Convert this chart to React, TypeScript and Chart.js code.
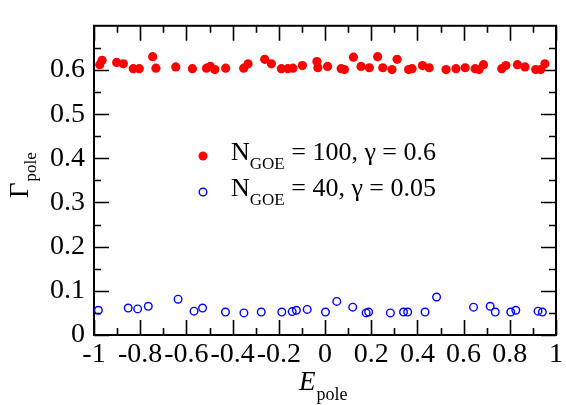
import React, { useEffect, useRef } from "react";
import { Chart, registerables } from "chart.js";

Chart.register(...registerables);

// ---- data ----
const redX = [-0.975, -0.965, -0.902, -0.873, -0.83, -0.804, -0.746, -0.732, -0.646, -0.574, -0.513, -0.496, -0.477, -0.43, -0.352, -0.333, -0.261, -0.232, -0.189, -0.161, -0.139, -0.098, -0.035, -0.031, 0.011, 0.07, 0.084, 0.123, 0.156, 0.192, 0.228, 0.25, 0.29, 0.312, 0.362, 0.377, 0.422, 0.451, 0.524, 0.567, 0.607, 0.65, 0.667, 0.686, 0.765, 0.783, 0.833, 0.866, 0.912, 0.934, 0.952];
const redY = [0.612, 0.622, 0.617, 0.614, 0.603, 0.603, 0.63, 0.604, 0.607, 0.603, 0.604, 0.608, 0.601, 0.604, 0.604, 0.614, 0.624, 0.614, 0.603, 0.603, 0.604, 0.61, 0.619, 0.605, 0.608, 0.603, 0.601, 0.629, 0.608, 0.605, 0.63, 0.605, 0.601, 0.624, 0.601, 0.603, 0.61, 0.605, 0.601, 0.603, 0.605, 0.603, 0.601, 0.612, 0.603, 0.61, 0.612, 0.607, 0.601, 0.601, 0.614];
const blueX = [-0.981, -0.852, -0.811, -0.765, -0.636, -0.567, -0.53, -0.431, -0.351, -0.276, -0.187, -0.142, -0.124, -0.077, 0.002, 0.051, 0.12, 0.178, 0.189, 0.283, 0.34, 0.358, 0.433, 0.483, 0.643, 0.715, 0.737, 0.804, 0.826, 0.922, 0.941];
const blueY = [0.056, 0.061, 0.059, 0.065, 0.081, 0.054, 0.061, 0.052, 0.05, 0.052, 0.052, 0.053, 0.056, 0.058, 0.052, 0.076, 0.063, 0.05, 0.052, 0.05, 0.052, 0.052, 0.052, 0.086, 0.063, 0.065, 0.052, 0.052, 0.056, 0.054, 0.052];

const xTickValues = [-1, -0.8, -0.6, -0.4, -0.2, 0, 0.2, 0.4, 0.6, 0.8, 1];
const xTickLabels = ["-1", "-0.8", "-0.6", "-0.4", "-0.2", "0", "0.2", "0.4", "0.6", "0.8", "1"];
const xMinorTicks = [-0.9, -0.7, -0.5, -0.3, -0.1, 0.1, 0.3, 0.5, 0.7, 0.9];
const yTickValues = [0, 0.1, 0.2, 0.3, 0.4, 0.5, 0.6];
const yTickLabels = ["0", "0.1", "0.2", "0.3", "0.4", "0.5", "0.6"];
const yMinorTicks = [0.05, 0.15, 0.25, 0.35, 0.45, 0.55, 0.65];

const redLabel = ["N", "GOE", " = 100, \u03b3 = 0.6"];
const blueLabel = ["N", "GOE", " = 40, \u03b3 = 0.05"];

const SERIF = "'Liberation Serif', 'Times New Roman', serif";

const decorPlugin = {
  id: "decor",
  beforeDatasetsDraw(chart: any) {
    const { ctx, chartArea: a, scales } = chart;
    const x = scales.x, y = scales.y;
    ctx.save();
    ctx.strokeStyle = "#000";
    ctx.lineWidth = 1.6;
    ctx.beginPath();
    const major = 15, minor = 7;
    for (const v of xTickValues) {
      const p = Math.round(x.getPixelForValue(v)) + 0.5;
      ctx.moveTo(p, a.bottom); ctx.lineTo(p, a.bottom - major);
      ctx.moveTo(p, a.top); ctx.lineTo(p, a.top + major);
    }
    for (const v of xMinorTicks) {
      const p = Math.round(x.getPixelForValue(v)) + 0.5;
      ctx.moveTo(p, a.bottom); ctx.lineTo(p, a.bottom - minor);
      ctx.moveTo(p, a.top); ctx.lineTo(p, a.top + minor);
    }
    for (const v of yTickValues) {
      const p = Math.round(y.getPixelForValue(v)) + 0.5;
      ctx.moveTo(a.left, p); ctx.lineTo(a.left + major, p);
      ctx.moveTo(a.right, p); ctx.lineTo(a.right - major, p);
    }
    for (const v of yMinorTicks) {
      const p = Math.round(y.getPixelForValue(v)) + 0.5;
      ctx.moveTo(a.left, p); ctx.lineTo(a.left + minor, p);
      ctx.moveTo(a.right, p); ctx.lineTo(a.right - minor, p);
    }
    ctx.stroke();
    ctx.lineWidth = 2;
    ctx.strokeRect(a.left, a.top, a.right - a.left, a.bottom - a.top);
    ctx.restore();
  },
  afterDraw(chart: any) {
    const { ctx } = chart;
    ctx.save();
    ctx.fillStyle = "#000";
    ctx.textBaseline = "alphabetic";
    ctx.textAlign = "left";
    // x title
    ctx.font = `italic 27px ${SERIF}`;
    ctx.fillText("E", 299, 390);
    const ew = ctx.measureText("E").width;
    ctx.font = `18px ${SERIF}`;
    ctx.fillText("pole", 299 + ew + 1, 400);
    // y title (rotated)
    ctx.save();
    ctx.translate(28, 198);
    ctx.rotate(-Math.PI / 2);
    ctx.font = `27px ${SERIF}`;
    ctx.fillText("\u0393", 0, 0);
    const gw = ctx.measureText("\u0393").width;
    ctx.font = `17px ${SERIF}`;
    ctx.fillText("pole", gw + 1, 8);
    ctx.restore();
    // legend
    const drawLabel = (parts: string[], x0: number, base: number) => {
      ctx.font = `26px ${SERIF}`;
      ctx.fillText(parts[0], x0, base);
      let xx = x0 + ctx.measureText(parts[0]).width;
      ctx.font = `17px ${SERIF}`;
      ctx.fillText(parts[1], xx, base + 9);
      xx += ctx.measureText(parts[1]).width;
      ctx.font = `26px ${SERIF}`;
      ctx.fillText(parts[2], xx, base);
    };
    ctx.fillStyle = "#ff0000";
    ctx.beginPath();
    ctx.arc(203, 156, 4.5, 0, Math.PI * 2);
    ctx.fill();
    ctx.strokeStyle = "#0000ff";
    ctx.lineWidth = 1.4;
    ctx.beginPath();
    ctx.arc(203, 192, 3.8, 0, Math.PI * 2);
    ctx.stroke();
    ctx.fillStyle = "#000";
    drawLabel(redLabel, 231, 160);
    drawLabel(blueLabel, 231, 196);
    ctx.restore();
  },
};

export default function App() {
  const ref = useRef<HTMLCanvasElement | null>(null);
  useEffect(() => {
    if (!ref.current) return;
    const chart = new Chart(ref.current, {
      type: "scatter",
      data: {
        datasets: [
          {
            label: "red",
            data: redX.map((v, i) => ({ x: v, y: redY[i] })),
            backgroundColor: "#ff0000",
            borderColor: "#ff0000",
            pointRadius: 4.6,
            borderWidth: 0,
            clip: false as any,
          },
          {
            label: "blue",
            data: blueX.map((v, i) => ({ x: v, y: blueY[i] })),
            backgroundColor: "rgba(0,0,0,0)",
            borderColor: "#0000ff",
            pointRadius: 3.8,
            borderWidth: 1.4,
            clip: false as any,
          },
        ],
      },
      options: {
        animation: false,
        responsive: true,
        maintainAspectRatio: false,
        layout: { padding: { top: 10, right: 9, left: 0, bottom: 0 } },
        plugins: { legend: { display: false }, tooltip: { enabled: false } },
        scales: {
          x: {
            type: "linear",
            min: -1,
            max: 1,
            grid: { display: false, drawTicks: false },
            border: { display: false },
            afterBuildTicks: (s: any) => { s.ticks = xTickValues.map((v) => ({ value: v })); },
            afterFit: (s: any) => { s.height = 70; },
            ticks: {
              autoSkip: false,
              maxRotation: 0,
              padding: 3,
              color: "#000",
              font: { family: SERIF, size: 28 },
              callback: (v: any) => { const i = xTickValues.findIndex((t) => Math.abs(t - v) < 1e-9); return i >= 0 ? xTickLabels[i] : ""; },
            },
          },
          y: {
            type: "linear",
            min: 0,
            max: 0.7,
            grid: { display: false, drawTicks: false },
            border: { display: false },
            afterBuildTicks: (s: any) => { s.ticks = yTickValues.map((v) => ({ value: v })); },
            afterFit: (s: any) => { s.width = 94; },
            ticks: {
              autoSkip: false,
              padding: 9,
              color: "#000",
              font: { family: SERIF, size: 28 },
              callback: (v: any) => { const i = yTickValues.findIndex((t) => Math.abs(t - v) < 1e-9); return i >= 0 ? yTickLabels[i] : ""; },
            },
          },
        },
      },
      plugins: [decorPlugin],
    });
    return () => chart.destroy();
  }, []);
  return (
    <div style={{ position: "absolute", left: 0, top: 0, width: 566, height: 405 }}>
      <canvas ref={ref} />
    </div>
  );
}
